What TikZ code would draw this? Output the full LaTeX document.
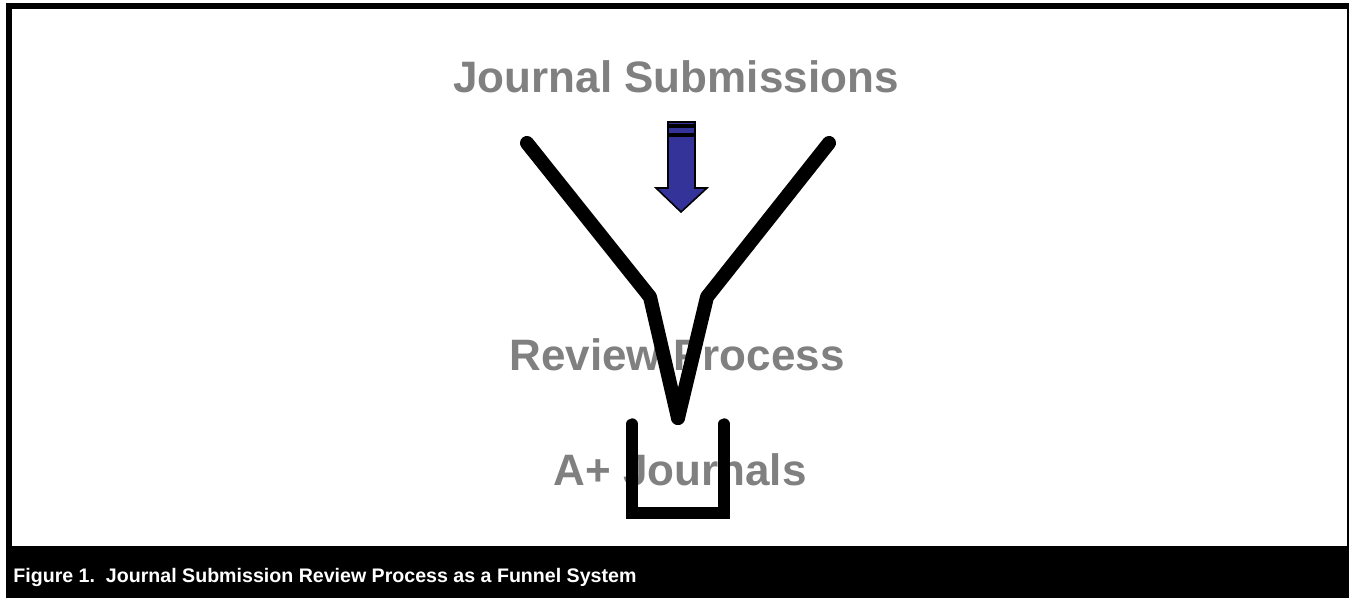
\documentclass[tikz,border=0pt]{standalone}
\usepackage{fontspec}
\setmainfont{Liberation Sans}
\usetikzlibrary{
  calc,
  positioning
}
\definecolor{labelgray}{HTML}{808080}
\definecolor{arrowblue}{HTML}{333399}
\tikzset{
  % For the big grey labels.
  stage label/.style={
    font=\fontsize{22}{26}\selectfont\bfseries,
    text=labelgray,
    inner sep=0pt,
    anchor=base},
%
  % For the funnel walls.
  funnel wall/.style={
    line width=7pt,
    line cap=round,
    line join=round},
%
  % For the cup at the bottom.
  cup wall/.style={
    line width=5.7pt,
    line cap=round,
    line join=miter},
%
  % For the block arrow.
  block arrow/.style={
    draw=black,
    fill=arrowblue,
    line width=0.8pt,
    line join=miter},
%
  % For the caption in the black band.
  caption text/.style={
    font=\fontsize{9.8}{12}\selectfont\bfseries,
    text=white,
    inner sep=0pt,
    anchor=base west},
}

\begin{document}
\begin{tikzpicture}[x=0.5pt,y=-0.5pt]
  \useasboundingbox (0,0) rectangle (1349,598);

  % frame and caption band
  \fill[black] (6,3) rectangle (1349,598);
  \fill[white] (12,9) rectangle (1347,546);
  \node[caption text] (caption) at (13,582)
    {Figure 1.\ \ Journal Submission Review Process as a Funnel System};

  % labels
  \node[stage label] (submissions) at (676,93) {Journal Submissions};
  \node[stage label] (review) at (677,371) {Review Process};
  \node[stage label] (journals) at (680,485) {A+ Journals};

  % arrow
  \draw[block arrow] (668,122) rectangle (695,125);
  \draw[block arrow] (668,127) rectangle (695,134);
  \draw[block arrow] (668,136) -- (695,136) -- (695,188) -- (707,188)
    -- (681,212) -- (656,188) -- (668,188) -- cycle;

  % funnel
  \coordinate (left top) at (527,143);
  \coordinate (left bend) at (650,297);
  \coordinate (right top) at (829,143);
  \coordinate (right bend) at (707,297);
  \coordinate (tip) at (678,418);
  \draw[funnel wall] (left top) -- (left bend) -- (tip);
  \draw[funnel wall] (right top) -- (right bend) -- (tip);

  % cup
  \coordinate (cup left) at (632,424);
  \coordinate (cup right) at (724,424);
  \draw[cup wall] (cup left) -- (cup left |- 0,513) -- (cup right |- 0,513)
    -- (cup right);
\end{tikzpicture}
\end{document}
